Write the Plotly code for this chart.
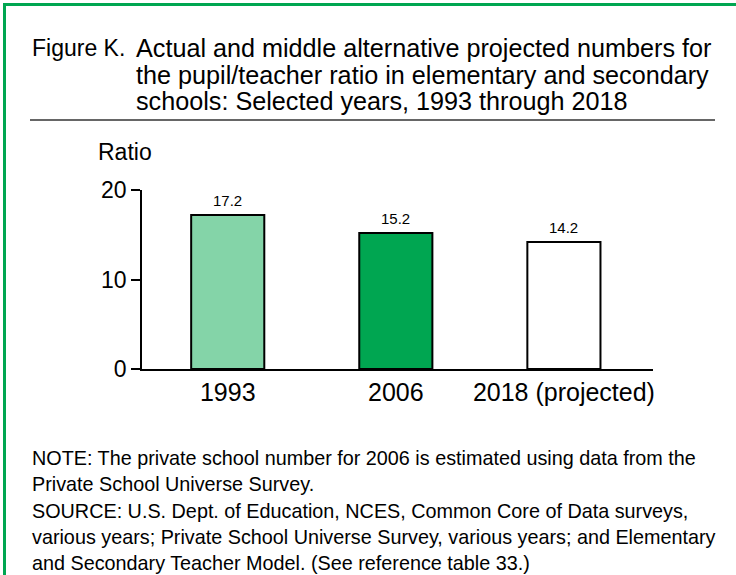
import plotly.graph_objects as go

categories = ["1993", "2006", "2018 (projected)"]
ratios = [17.2, 15.2, 14.2]
labels = ["17.2", "15.2", "14.2"]
colors = ["#84D4A8", "#00A651", "#FFFFFF"]
y_ticks = [0, 10, 20]

W_PX, H_PX = 736, 575
L, R, T, B = 142, 653, 190, 369

def fx(px):
    return (px - L) / (R - L)

def fy(py):
    return (B - py) / (B - T)

FONT = "Liberation Sans, Arial, Helvetica, sans-serif"

fig = go.Figure()
fig.add_trace(go.Bar(
    x=categories, y=ratios,
    marker=dict(color=colors, line=dict(color="#000000", width=2)),
    width=0.435,
    hoverinfo="skip",
))

annotations = []
for i, (v, lab) in enumerate(zip(ratios, labels)):
    annotations.append(dict(text=lab, x=i, y=v, xref="x", yref="y",
                            xanchor="center", yanchor="bottom", yshift=4, showarrow=False,
                            font=dict(size=15, family=FONT, color="#000000")))

title_lines = [
    "Actual and middle alternative projected numbers for",
    "the pupil/teacher ratio in elementary and secondary",
    "schools: Selected years, 1993 through 2018",
]
title_y = [48, 75, 101]
annotations.append(dict(text="Figure K.", x=fx(30), y=fy(title_y[0]), xref="paper", yref="paper",
                        xanchor="left", yanchor="middle", showarrow=False,
                        font=dict(size=23, family=FONT, color="#000000")))
for t, yy in zip(title_lines, title_y):
    annotations.append(dict(text=t, x=fx(134), y=fy(yy), xref="paper", yref="paper",
                            xanchor="left", yanchor="middle", showarrow=False,
                            font=dict(size=25.2, family=FONT, color="#000000")))

annotations.append(dict(text="Ratio", x=fx(96), y=fy(152), xref="paper", yref="paper",
                        xanchor="left", yanchor="middle", showarrow=False,
                        font=dict(size=23, family=FONT, color="#000000")))

note_lines = [
    "NOTE: The private school number for 2006 is estimated using data from the",
    "Private School Universe Survey.",
    "SOURCE: U.S. Dept. of Education, NCES, Common Core of Data surveys,",
    "various years; Private School Universe Survey, various years; and Elementary",
    "and Secondary Teacher Model. (See reference table 33.)",
]
note_y = [458, 484, 511, 537, 563]
for t, yy in zip(note_lines, note_y):
    annotations.append(dict(text=t, x=fx(30), y=fy(yy), xref="paper", yref="paper",
                            xanchor="left", yanchor="middle", showarrow=False,
                            font=dict(size=19.8, family=FONT, color="#000000")))

shapes = [
    dict(type="line", xref="paper", yref="paper", x0=fx(3), x1=fx(736), y0=fy(4.5), y1=fy(4.5),
         line=dict(color="#00A651", width=3)),
    dict(type="line", xref="paper", yref="paper", x0=fx(4.5), x1=fx(4.5), y0=fy(3), y1=fy(575),
         line=dict(color="#00A651", width=3)),
    dict(type="line", xref="paper", yref="paper", x0=fx(30), x1=fx(715), y0=fy(120), y1=fy(120),
         line=dict(color="#333333", width=1.5)),
]

fig.update_layout(
    width=W_PX, height=H_PX,
    margin=dict(l=L, r=W_PX - R, t=T, b=H_PX - B, pad=0),
    paper_bgcolor="#FFFFFF", plot_bgcolor="#FFFFFF",
    showlegend=False,
    annotations=annotations, shapes=shapes,
    font=dict(family=FONT, color="#000000"),
    xaxis=dict(type="category", range=[-0.51, 2.53], showline=True, linecolor="#000000", linewidth=1.5,
               ticks="", showgrid=False, zeroline=False,
               tickfont=dict(size=25, family=FONT, color="#000000")),
    yaxis=dict(range=[0, 20], tickvals=y_ticks, showline=True, linecolor="#000000", linewidth=1.5,
               ticks="outside", ticklen=9, tickwidth=1.5, tickcolor="#000000",
               showgrid=False, zeroline=False,
               tickfont=dict(size=23, family=FONT, color="#000000")),
    bargap=0.5,
)

fig.write_html("out.html", config={"displayModeBar": False},
               post_script="document.body.style.margin='0px';document.body.style.overflow='hidden';")
